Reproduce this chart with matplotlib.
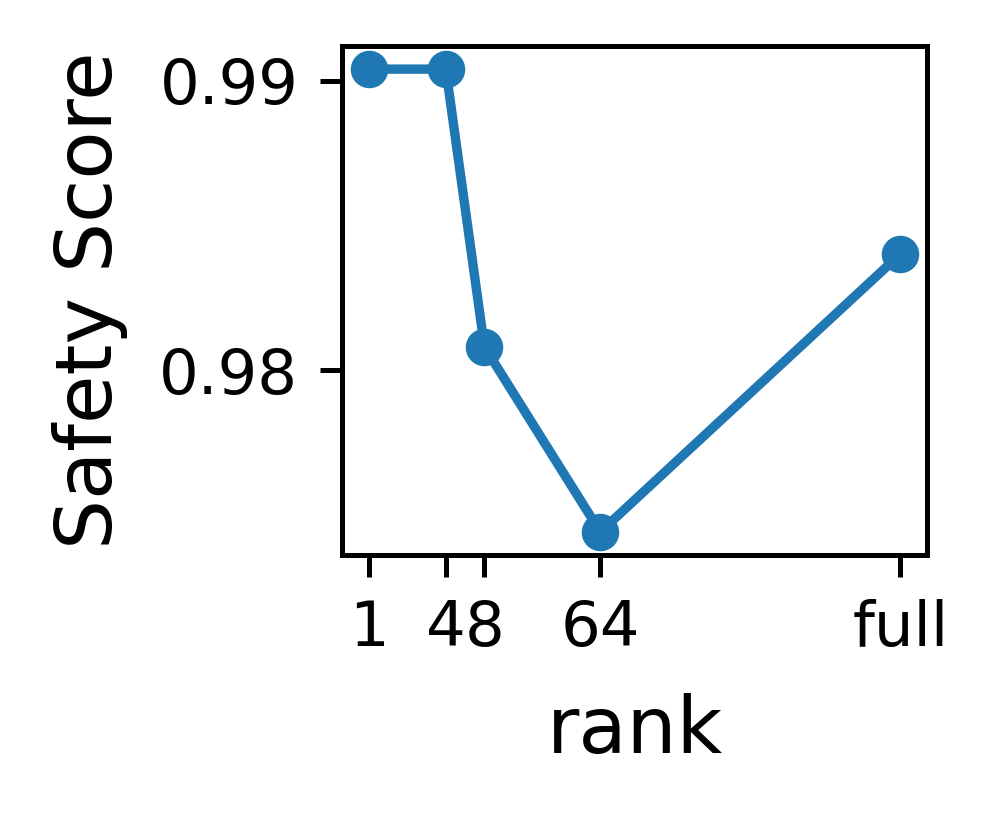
import matplotlib
matplotlib.use('Agg')
import matplotlib.pyplot as plt

# rank values (the "full" rank is placed at a large value on the log2 axis)
ranks = [1, 4, 8, 64, 14000]
rank_labels = ['1', '4', '8', '64', 'full']
safety_score = [0.9904, 0.9904, 0.98081, 0.97443, 0.98402]

fig = plt.figure(figsize=(998 / 450, 815 / 450), dpi=450)
ax = fig.add_axes([0.3427, 0.319, 0.9289 - 0.3427, 0.9436 - 0.319])

ax.plot(ranks, safety_score, marker='o', markersize=5, linewidth=1.5)
ax.set_xscale('log', base=2)
ax.set_xticks(ranks)
ax.set_xticklabels(rank_labels)
ax.minorticks_off()
ax.set_yticks([0.98, 0.99])
ax.set_yticklabels(['0.98', '0.99'])
ax.tick_params(labelsize=10)
ax.set_xlabel('rank', fontsize=12.6, labelpad=5.5)
ax.set_ylabel('Safety Score', fontsize=12.6, labelpad=5)

fig.savefig('out.png', dpi=450)
